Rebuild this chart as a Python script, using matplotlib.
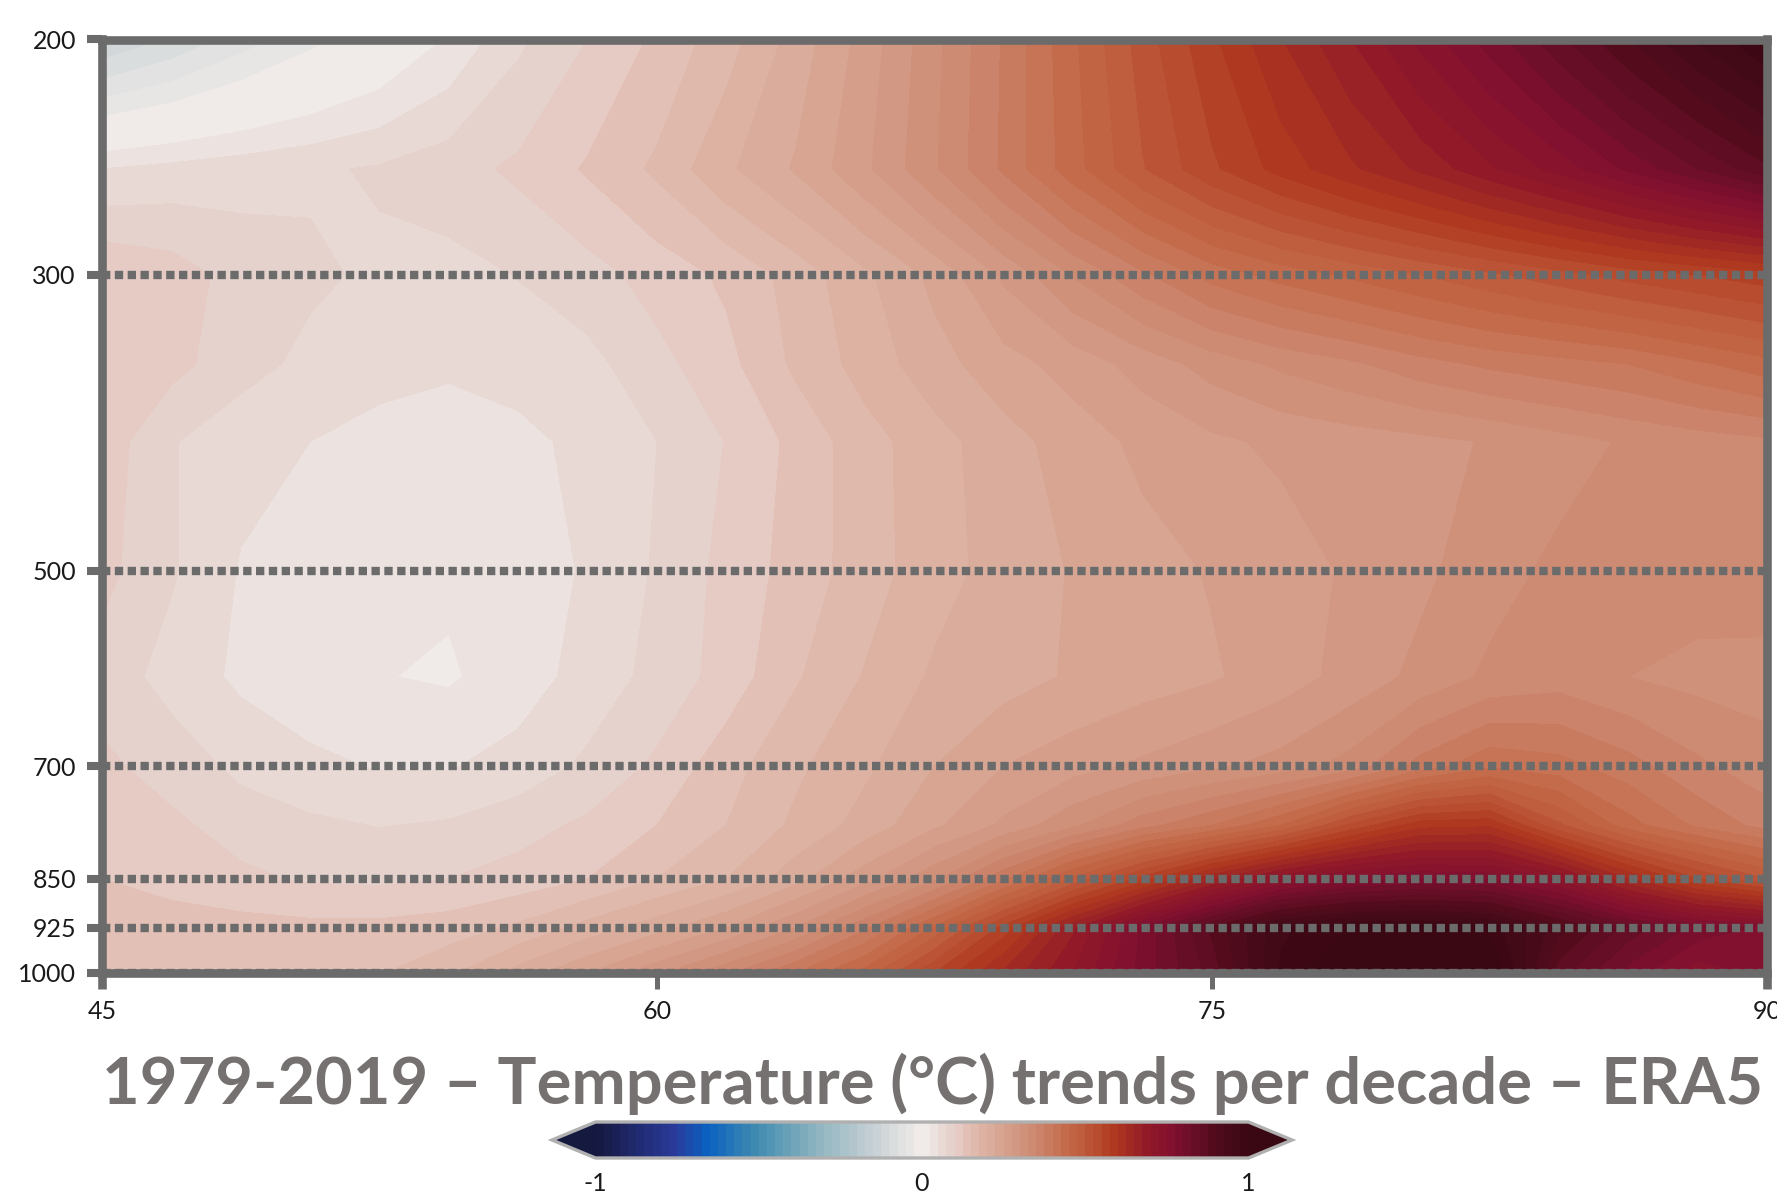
import matplotlib
matplotlib.use("Agg")
import matplotlib.pyplot as plt
from matplotlib.colors import LinearSegmentedColormap
import numpy as np

# latitude and pressure grid
lats = [45, 46.875, 48.75, 50.625, 52.5, 54.375, 56.25, 58.125, 60, 61.875, 63.75, 65.625, 67.5,
        69.375, 71.25, 73.125, 75, 76.875, 78.75, 80.625, 82.5, 84.375, 86.25, 88.125, 90]
plevs = [200, 250, 300, 350, 400, 500, 600, 700, 775, 850, 925, 1000]

# trends per decade, one list per pressure level
t200 = [-.125, -.097, -.063, -.033, -.005, .028, .07, .1, .13, .164, .21, .26, .318,
        .378, .445, .512, .57, .624, .674, .732, .786, .843, .90, .953, 1.0]
t250 = [.05, .058, .065, .071, .078, .09, .105, .128, .155, .195, .228, .27, .322,
        .38, .44, .498, .545, .585, .62, .655, .695, .735, .78, .825, .87]
t300 = [.125, .113, .09, .08, .07, .066, .076, .09, .11, .13, .16, .195, .232,
        .28, .327, .37, .41, .435, .455, .475, .495, .515, .535, .55, .565]
t350 = [.125, .108, .085, .068, .058, .054, .06, .067, .092, .117, .155, .185, .215,
        .24, .26, .285, .31, .33, .345, .365, .38, .39, .40, .42, .44]
t400 = [.115, .077, .058, .05, .042, .037, .043, .057, .075, .101, .132, .165, .19,
        .215, .237, .256, .27, .28, .287, .293, .302, .315, .328, .337, .345]
t500 = [.108, .078, .048, .036, .03, .029, .036, .053, .078, .108, .135, .163, .19,
        .21, .227, .24, .252, .262, .279, .294, .315, .331, .336, .338, .34]
t600 = [.09, .065, .045, .034, .026, .022, .037, .06, .083, .11, .147, .177, .204,
        .215, .228, .238, .247, .263, .284, .307, .33, .338, .325, .317, .315]
t700 = [.105, .09, .068, .056, .048, .048, .06, .08, .105, .14, .17, .195, .225,
        .25, .265, .28, .295, .31, .335, .385, .42, .41, .385, .355, .335]
t775 = [.118, .105, .09, .08, .074, .078, .09, .105, .125, .15, .18, .21, .245,
        .28, .32, .365, .40, .45, .53, .59, .595, .505, .435, .395, .365]
t850 = [.125, .115, .105, .097, .095, .10, .11, .125, .15, .175, .215, .265, .32,
        .395, .48, .56, .645, .72, .76, .775, .77, .72, .625, .55, .50]
t925 = [.145, .138, .135, .132, .132, .138, .155, .185, .215, .25, .30, .37, .455,
        .56, .67, .78, .88, .97, 1.0, 1.01, .99, .91, .84, .79, .77]
t1000 = [.145, .143, .141, .142, .148, .17, .21, .25, .295, .345, .40, .46, .55,
         .63, .70, .785, .86, .98, 1.05, 1.07, 1.04, .86, .79, .735, .76]

yticks = [200, 300, 500, 700, 850, 925, 1000]
xticks = [45, 60, 75, 90]
title = "1979-2019 – Temperature (°C) trends per decade – ERA5"

# colour bar
cmap_vals = [-1, -.76, -.66, -.51, -.32, -.195, -.0125, .0125, .0375, .0625, .0875, .1125, .15, .2, .27,
             .35, .43, .5, .585, .695, .77, .90, 1]
cmap_cols = ["#15183f", "#2a3a9a", "#0a60c0", "#3f8ab0", "#8fb5c0", "#b8c8cf", "#f0ebe8", "#f0ebe8",
             "#ece3e0", "#e8dad6", "#e5d2cc", "#e6cbc4", "#e0bcb0", "#dcb0a0", "#d49c88",
             "#cc8870", "#c46e4e", "#bd5a3a", "#b03a20", "#901828", "#801030", "#500c1c", "#3a0812"]

plt.rcParams['font.family'] = ['Lato', 'DejaVu Sans']
grey = "#6b6b6b"

cmap = LinearSegmentedColormap.from_list("trend", [((v + 1) / 2, c) for v, c in zip(cmap_vals, cmap_cols)], N=512)
levels = np.arange(-1, 1.001, 0.025)
trend = np.array([t200, t250, t300, t350, t400, t500, t600, t700, t775, t850, t925, t1000])

fig = plt.figure(figsize=(17.77, 11.93), dpi=100)
W, H = 1777, 1193
ax = fig.add_axes([102 / W, 1 - 973 / H, (1767 - 102) / W, (973 - 39.5) / H])

# two layers so the band edges do not show white seams
cf = ax.contourf(lats, plevs, trend, levels=levels, cmap=cmap, extend='both')
ax.contourf(lats, plevs, trend, levels=levels, cmap=cmap, extend='both')

ax.set_yscale('log')
ax.set_ylim(1000, 200)
ax.set_xlim(45, 90)
ax.minorticks_off()
ax.set_yticks(yticks)
ax.set_yticklabels([str(y) for y in yticks])
ax.set_xticks(xticks)
ax.set_xticklabels([str(x) for x in xticks])

for s in ax.spines.values():
    s.set_linewidth(6.2)
    s.set_color(grey)

ax.grid(True, axis='y', color=grey, linewidth=6, linestyle=(0, (1, 0.54)))
ax.set_axisbelow(False)

ax.tick_params(axis='y', length=10.8, width=5.8, color=grey, labelsize=18, pad=8, labelcolor="#1a1a1a")
ax.tick_params(axis='x', length=11.5, width=3.6, color=grey, labelsize=18, pad=8, labelcolor="#1a1a1a")
# the end ticks carry on from the side frame
xt = ax.xaxis.get_major_ticks()
xt[0].tick1line.set_markeredgewidth(6.2)
xt[-1].tick1line.set_markeredgewidth(6.2)

fig.text(933 / W, 1 - 1084 / H, title, ha='center', va='center', fontsize=46.8, fontweight='bold', color="#757170")

# the extend tips sit inside the colorbar axes
cax = fig.add_axes([552 / W, 1 - 1158 / H, (1292 - 552) / W, (1158 - 1122) / H])
cb = fig.colorbar(cf, cax=cax, orientation='horizontal', extendfrac=0.0666, ticks=[-1, 0, 1], drawedges=False)
cb.ax.set_xticklabels(['-1', '0', '1'])
cb.ax.tick_params(length=0, labelsize=18, pad=10, labelcolor="#1a1a1a")
cb.outline.set_edgecolor("#b0b0b0")
cb.outline.set_linewidth(2.4)

fig.savefig("out.png", dpi=100)
